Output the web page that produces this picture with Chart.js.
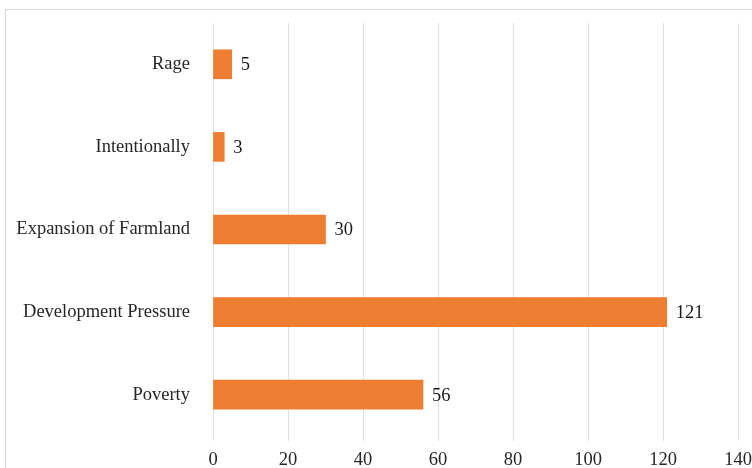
<!DOCTYPE html>
<html>
<head>
<meta charset="utf-8">
<script src="https://cdn.jsdelivr.net/npm/chart.js@4/dist/chart.umd.min.js"></script>
<style>
html,body{margin:0;padding:0;background:#fff;}
#wrap{width:752px;height:468px;position:relative;}
</style>
</head>
<body>
<div id="wrap"><canvas id="c" width="752" height="468"></canvas></div>
<script>
const categories = ["Rage", "Intentionally", "Expansion of Farmland", "Development Pressure", "Poverty"];
const values = [5, 3, 30, 121, 56];
const xTicks = [0, 20, 40, 60, 80, 100, 120, 140];

const FONT = "'Liberation Serif', 'Times New Roman', serif";

const frame = {
  id: 'frame',
  beforeDraw(chart) {
    const ctx = chart.ctx;
    ctx.save();
    ctx.strokeStyle = '#d9d9d9';
    ctx.lineWidth = 1;
    ctx.beginPath();
    ctx.moveTo(5.5, 468);
    ctx.lineTo(5.5, 9.5);
    ctx.lineTo(752, 9.5);
    ctx.stroke();
    ctx.restore();
  }
};

const labels = {
  id: 'labels',
  afterDatasetsDraw(chart) {
    const ctx = chart.ctx;
    const meta = chart.getDatasetMeta(0);
    ctx.save();
    ctx.font = "18.5px " + FONT;
    ctx.fillStyle = '#1a1a1a';
    ctx.textAlign = 'left';
    ctx.textBaseline = 'middle';
    meta.data.forEach((bar, i) => {
      ctx.fillText(String(values[i]), bar.x + 9, bar.y + 1);
    });
    ctx.restore();
  }
};

new Chart(document.getElementById('c'), {
  type: 'bar',
  data: {
    labels: categories,
    datasets: [{
      data: values,
      backgroundColor: '#ED7D31',
      borderWidth: 0,
      barThickness: 29
    }]
  },
  options: {
    indexAxis: 'y',
    responsive: false,
    animation: false,
    layout: { padding: { top: 23, left: 5, right: 14, bottom: 0 } },
    plugins: { legend: { display: false }, tooltip: { enabled: false } },
    scales: {
      x: {
        min: 0, max: 140,
        afterBuildTicks(scale) { scale.ticks = xTicks.map(v => ({ value: v })); },
        grid: { color: '#e0e0e0', drawTicks: true, tickLength: 5, tickColor: '#e0e0e0' },
        border: { display: false },
        ticks: { font: { family: FONT, size: 18.5 }, color: '#262626', padding: 8 },
        afterFit(scale) { scale.height = 32; scale.paddingLeft = 0; scale.paddingRight = 0; }
      },
      y: {
        grid: { display: false, drawTicks: false },
        border: { display: false },
        ticks: { font: { family: FONT, size: 18.5 }, color: '#262626', padding: 23 },
        afterFit(scale) { scale.width = 208; scale.paddingTop = 0; scale.paddingBottom = 0; }
      }
    }
  },
  plugins: [frame, labels]
});
</script>
</body>
</html>
